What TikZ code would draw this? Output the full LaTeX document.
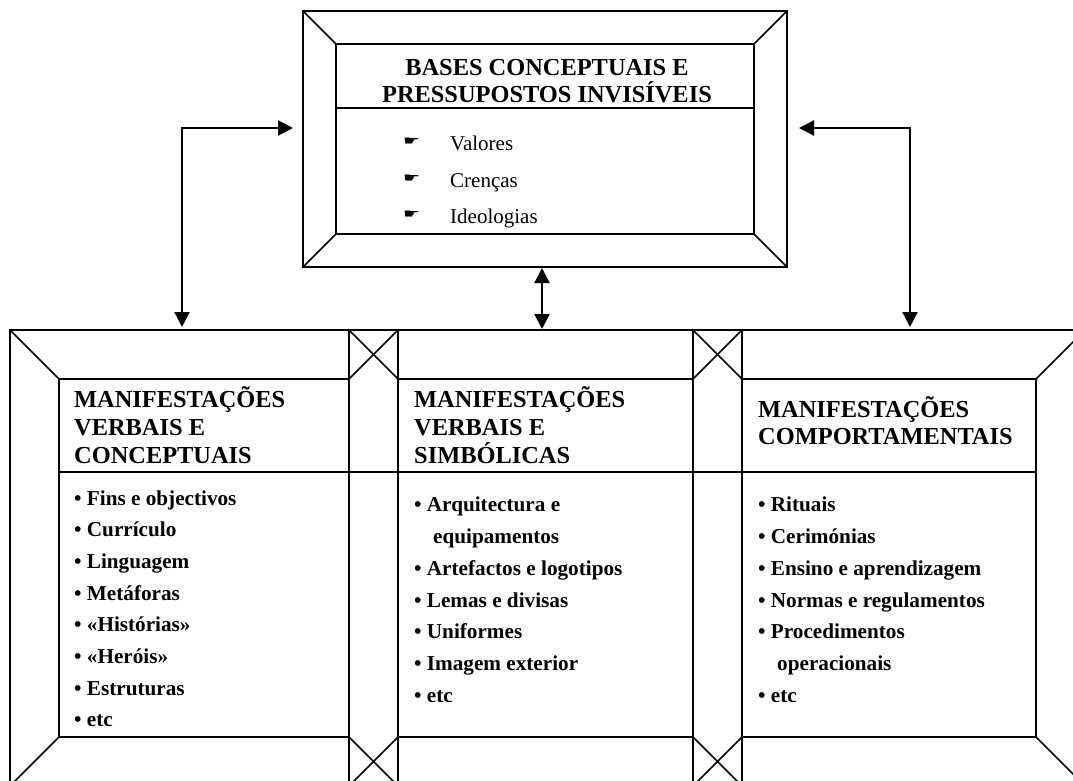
\documentclass[tikz,border=0pt]{standalone}
\usepackage{fontspec}
\setmainfont{Liberation Serif}
\newfontfamily\dejavu{DejaVu Sans}
\usetikzlibrary{arrows.meta}
\tikzset{
  frameline/.style={line width=2pt, line join=miter},
  diagline/.style={line width=1.6pt},
  divline/.style={line width=1.3pt},
  dblarrow/.style={line width=2.2pt, {Triangle[length=15pt,width=15pt]}-{Triangle[length=15pt,width=15pt]}},
  titletext/.style={font=\fontsize{24.4}{28}\selectfont\bfseries, anchor=base west, inner sep=0pt},
  itemtext/.style={font=\fontsize{21.2}{25}\selectfont\bfseries, anchor=base west, inner sep=0pt},
  topitemtext/.style={font=\fontsize{21}{25}\selectfont, anchor=base west, inner sep=0pt},
  handmark/.style={inner sep=0pt, anchor=center}
}
% name, x1, y1, x2, y2, thickness
\newcommand\bevelframe[6]{%
  \coordinate (#1o1) at (#2,#3);
  \coordinate (#1o2) at (#4,#5);
  \coordinate (#1i1) at (#2+#6,#3+#6);
  \coordinate (#1i2) at (#4-#6,#5-#6);
  \draw[diagline] (#1o1) -- (#1i1);
  \draw[diagline] (#1o1 -| #1o2) -- (#1i1 -| #1i2);
  \draw[diagline] (#1o2) -- (#1i2);
  \draw[diagline] (#1o1 |- #1o2) -- (#1i1 |- #1i2);
  \draw[frameline] (#1o1) rectangle (#1o2);
  \draw[frameline] (#1i1) rectangle (#1i2);
}
\newcommand\handsym{\resizebox{17pt}{7.5pt}{\dejavu ☛}}
\begin{document}
\begin{tikzpicture}[x=1pt,y=-1pt]
\useasboundingbox (0,0) rectangle (1073,781);
\clip (0,0) rectangle (1073,781);

% top box
\bevelframe{T}{303}{11}{787}{267}{33}
\draw[divline] (Ti1 |- 0,108) -- (Ti2 |- 0,108);
\node[titletext, anchor=base] (t1) at (547,76) {BASES CONCEPTUAIS E};
\node[titletext, anchor=base] (t2) at (547,103) {PRESSUPOSTOS INVISÍVEIS};
\foreach \w/\b [count=\i] in {Valores/150, Crenças/187, Ideologias/223}{
  \node[handmark] (h\i) at (411.5,\b-8.5) {\handsym};
  \node[topitemtext] (v\i) at (450,\b) {\w};
}

% bottom boxes
\bevelframe{L}{10}{330}{398}{786}{49}
\bevelframe{M}{349}{330}{742}{786}{49}
\bevelframe{R}{693}{330}{1085}{786}{49}
\draw[divline] (Li1 |- 0,472) -- (Ri2 |- 0,472);

% left titles
\node[titletext] (lt1) at (74,407) {MANIFESTAÇÕES};
\node[titletext] (lt2) at (74,435) {VERBAIS E};
\node[titletext] (lt3) at (74,463) {CONCEPTUAIS};
\foreach \t [count=\i from 0] in {Fins e objectivos, Currículo, Linguagem, Metáforas, «Histórias», «Heróis», Estruturas, etc}{
  \node[itemtext] (l\i) at (74,505+31.7*\i) {• \t};
}

% middle titles
\node[titletext] (mt1) at (414,407) {MANIFESTAÇÕES};
\node[titletext] (mt2) at (414,435) {VERBAIS E};
\node[titletext] (mt3) at (414,463) {SIMBÓLICAS};
\node[itemtext] (m1) at (414,511) {• Arquitectura e};
\node[itemtext] (m2) at (433,543) {equipamentos};
\node[itemtext] (m3) at (414,575) {• Artefactos e logotipos};
\node[itemtext] (m4) at (414,607) {• Lemas e divisas};
\node[itemtext] (m5) at (414,638) {• Uniformes};
\node[itemtext] (m6) at (414,670) {• Imagem exterior};
\node[itemtext] (m7) at (414,702) {• etc};

% right titles
\node[titletext] (rt1) at (758,417) {MANIFESTAÇÕES};
\node[titletext] (rt2) at (758,444) {COMPORTAMENTAIS};
\node[itemtext] (r1) at (758,511) {• Rituais};
\node[itemtext] (r2) at (758,543) {• Cerimónias};
\node[itemtext] (r3) at (758,575) {• Ensino e aprendizagem};
\node[itemtext] (r4) at (758,607) {• Normas e regulamentos};
\node[itemtext] (r5) at (758,638) {• Procedimentos};
\node[itemtext] (r6) at (777,670) {operacionais};
\node[itemtext] (r7) at (758,702) {• etc};

% connectors
\coordinate (LA) at ([xshift=-10pt]To1 |- 0,128);
\coordinate (LB) at (182,327);
\coordinate (RA) at ([xshift=12pt]To2 |- 0,128);
\coordinate (RB) at (910,327);
\coordinate (MA) at (542,268);
\coordinate (MB) at (542,329);
\draw[dblarrow] (LA) -| (LB);
\draw[dblarrow] (RA) -| (RB);
\draw[dblarrow] (MA) -- (MB);
\end{tikzpicture}
\end{document}
